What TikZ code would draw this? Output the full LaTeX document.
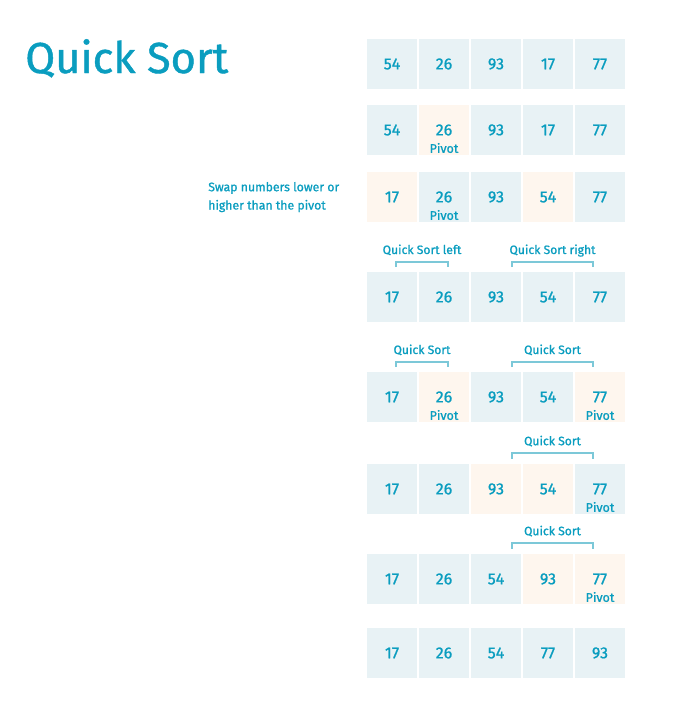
\documentclass[tikz,border=0pt]{standalone}
\usepackage{fontspec}
\setmainfont{Fira Sans}[FakeBold=1]
\usepackage{tikz}
\usetikzlibrary{positioning}
\usepackage{xcolor}
\definecolor{SortBlue}{HTML}{0A9DBF}
\definecolor{CellBlue}{HTML}{E8F2F5}
\definecolor{CellPeach}{HTML}{FEF6EE}
\definecolor{BracketBlue}{HTML}{7CC8D8}
\tikzset{%
  cell/.style={%
    rectangle,%
    fill=CellBlue,%
    minimum width=37.5pt,%
    minimum height=37.5pt,%
    inner sep=0pt,%
    outer sep=0pt,%
    text=SortBlue,%
    font={\fontsize{12}{14}\selectfont},%
  },
  hot_cell/.style={%
    cell,%
    fill=CellPeach,%
  },
  pivot_note/.style={%
    text=SortBlue,%
    inner sep=0pt,%
    font={\fontsize{9.4}{12}\selectfont},%
  },
  sort_note/.style={%
    text=SortBlue,%
    inner sep=0pt,%
    anchor=base,%
    yshift=6pt,%
    font={\fontsize{9.1}{12}\selectfont},%
  },
  bracket/.style={%
    draw=BracketBlue,%
    line width=1.4pt,%
  },
}

\begin{document}
\begin{tikzpicture}[x=0.75pt, y=-0.75pt]

    \useasboundingbox (0,0) rectangle (675,703);

    \node [anchor=base west, inner sep=0pt, text=SortBlue,
      font={\fontsize{32.5}{38}\selectfont}] (title) at (25,73) {Quick Sort};
    \node [anchor=base west, inner sep=0pt, text=SortBlue, align=left,
      font={\fontsize{9.2}{13.7}\selectfont}] (swap_note) at (208,209.5) {%
      Swap numbers lower or\\higher than the pivot%
    };

    % start
    \node [cell] (s1c1) at (392,64) {54};
    \node [cell, right = 1.5pt of s1c1] (s1c2) {26};
    \node [cell, right = 1.5pt of s1c2] (s1c3) {93};
    \node [cell, right = 1.5pt of s1c3] (s1c4) {17};
    \node [cell, right = 1.5pt of s1c4] (s1c5) {77};

    % pick pivot
    \node [cell] (s2c1) at (392,130) {54};
    \node [hot_cell, right = 1.5pt of s2c1] (s2c2) {26};
    \node [cell, right = 1.5pt of s2c2] (s2c3) {93};
    \node [cell, right = 1.5pt of s2c3] (s2c4) {17};
    \node [cell, right = 1.5pt of s2c4] (s2c5) {77};
    \node [pivot_note] (s2p) at ([yshift=-13.5pt]s2c2.center) {Pivot};

    % swap
    \node [hot_cell] (s3c1) at (392,197) {17};
    \node [cell, right = 1.5pt of s3c1] (s3c2) {26};
    \node [cell, right = 1.5pt of s3c2] (s3c3) {93};
    \node [hot_cell, right = 1.5pt of s3c3] (s3c4) {54};
    \node [cell, right = 1.5pt of s3c4] (s3c5) {77};
    \node [pivot_note] (s3p) at ([yshift=-13.5pt]s3c2.center) {Pivot};

    % split
    \node [cell] (s4c1) at (392,297) {17};
    \node [cell, right = 1.5pt of s4c1] (s4c2) {26};
    \node [cell, right = 1.5pt of s4c2] (s4c3) {93};
    \node [cell, right = 1.5pt of s4c3] (s4c4) {54};
    \node [cell, right = 1.5pt of s4c4] (s4c5) {77};

    % both halves
    \node [cell] (s5c1) at (392,397) {17};
    \node [hot_cell, right = 1.5pt of s5c1] (s5c2) {26};
    \node [cell, right = 1.5pt of s5c2] (s5c3) {93};
    \node [cell, right = 1.5pt of s5c3] (s5c4) {54};
    \node [hot_cell, right = 1.5pt of s5c4] (s5c5) {77};
    \node [pivot_note] (s5p2) at ([yshift=-13.5pt]s5c2.center) {Pivot};
    \node [pivot_note] (s5p5) at ([yshift=-13.5pt]s5c5.center) {Pivot};

    % right half
    \node [cell] (s6c1) at (392,489) {17};
    \node [cell, right = 1.5pt of s6c1] (s6c2) {26};
    \node [hot_cell, right = 1.5pt of s6c2] (s6c3) {93};
    \node [hot_cell, right = 1.5pt of s6c3] (s6c4) {54};
    \node [cell, right = 1.5pt of s6c4] (s6c5) {77};
    \node [pivot_note] (s6p) at ([yshift=-13.5pt]s6c5.center) {Pivot};

    \node [cell] (s7c1) at (392,579) {17};
    \node [cell, right = 1.5pt of s7c1] (s7c2) {26};
    \node [cell, right = 1.5pt of s7c2] (s7c3) {54};
    \node [hot_cell, right = 1.5pt of s7c3] (s7c4) {93};
    \node [hot_cell, right = 1.5pt of s7c4] (s7c5) {77};
    \node [pivot_note] (s7p) at ([yshift=-13.5pt]s7c5.center) {Pivot};

    % sorted
    \node [cell] (s8c1) at (392,653) {17};
    \node [cell, right = 1.5pt of s8c1] (s8c2) {26};
    \node [cell, right = 1.5pt of s8c2] (s8c3) {54};
    \node [cell, right = 1.5pt of s8c3] (s8c4) {77};
    \node [cell, right = 1.5pt of s8c4] (s8c5) {93};

    \draw [bracket]
      ([xshift=3pt, yshift=3.75pt]s4c1.north)
      --
      ([xshift=3pt, yshift=7.5pt]s4c1.north)
      --
      ([xshift=3pt, yshift=7.5pt]s4c2.north)
      node [sort_note, midway] {Quick Sort left}
      --
      ([xshift=3pt, yshift=3.75pt]s4c2.north);
    \draw [bracket]
      ([xshift=12pt, yshift=3.75pt]s4c3.north)
      --
      ([xshift=12pt, yshift=7.5pt]s4c3.north)
      --
      ([xshift=-5.25pt, yshift=7.5pt]s4c5.north)
      node [sort_note, midway] {Quick Sort right}
      --
      ([xshift=-5.25pt, yshift=3.75pt]s4c5.north);

    \draw [bracket]
      ([xshift=3pt, yshift=3.75pt]s5c1.north)
      --
      ([xshift=3pt, yshift=7.5pt]s5c1.north)
      --
      ([xshift=3pt, yshift=7.5pt]s5c2.north)
      node [sort_note, midway] {Quick Sort}
      --
      ([xshift=3pt, yshift=3.75pt]s5c2.north);
    \draw [bracket]
      ([xshift=12pt, yshift=3.75pt]s5c3.north)
      --
      ([xshift=12pt, yshift=7.5pt]s5c3.north)
      --
      ([xshift=-5.25pt, yshift=7.5pt]s5c5.north)
      node [sort_note, midway] {Quick Sort}
      --
      ([xshift=-5.25pt, yshift=3.75pt]s5c5.north);

    \draw [bracket]
      ([xshift=12pt, yshift=4.1pt]s6c3.north)
      --
      ([xshift=12pt, yshift=8.1pt]s6c3.north)
      --
      ([xshift=-5.25pt, yshift=8.1pt]s6c5.north)
      node [sort_note, midway] {Quick Sort}
      --
      ([xshift=-5.25pt, yshift=4.1pt]s6c5.north);

    \draw [bracket]
      ([xshift=12pt, yshift=4.1pt]s7c3.north)
      --
      ([xshift=12pt, yshift=8.1pt]s7c3.north)
      --
      ([xshift=-5.25pt, yshift=8.1pt]s7c5.north)
      node [sort_note, midway] {Quick Sort}
      --
      ([xshift=-5.25pt, yshift=4.1pt]s7c5.north);
  \end{tikzpicture}
\end{document}
